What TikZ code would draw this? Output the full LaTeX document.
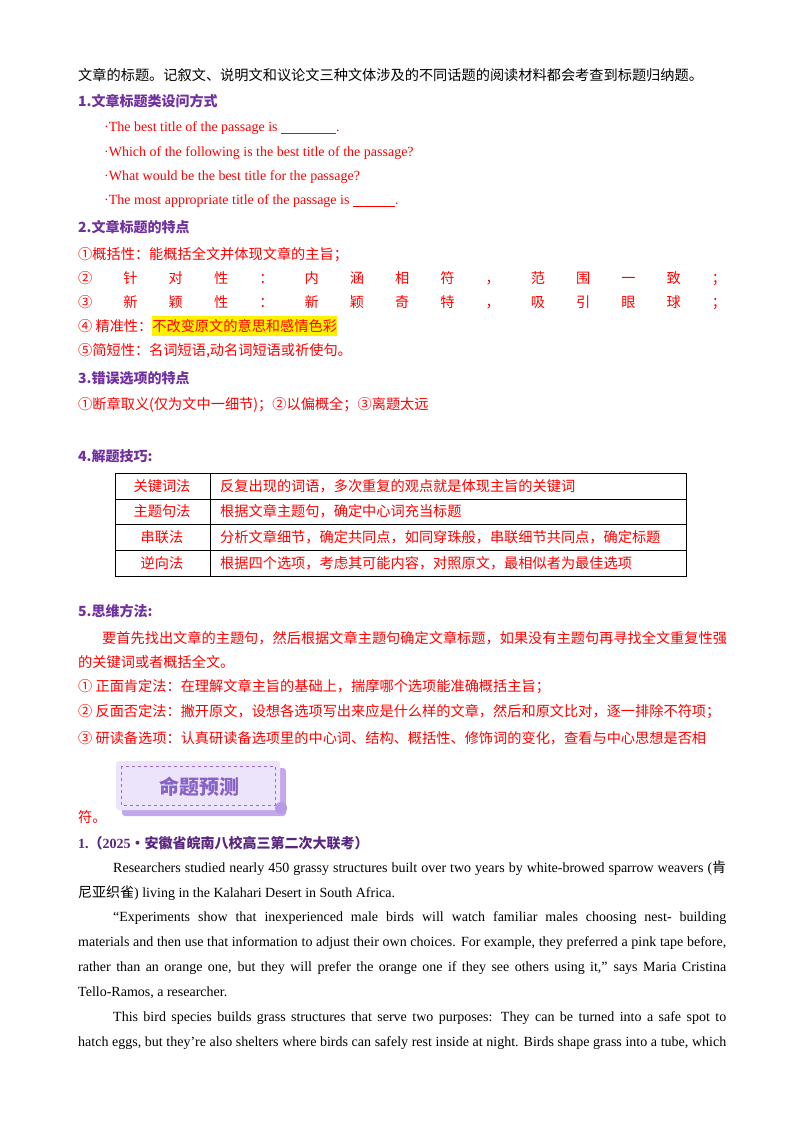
\documentclass[tikz,border=0pt]{standalone}
\usepackage{fontspec}
\setmainfont{Liberation Serif}
\newfontfamily\cjk{Noto Sans CJK SC}
\definecolor{pur}{RGB}{112,48,160}
\definecolor{rd}{RGB}{255,0,0}
\definecolor{lav}{RGB}{236,228,250}
\definecolor{mpur}{RGB}{150,110,220}
\begin{document}
\begin{tikzpicture}[x=1pt,y=-1pt,
  tx/.style={anchor=west,inner sep=0pt,font=\fontsize{14.2}{15}\selectfont\cjk},
  hd/.style={tx,text=pur,font=\fontsize{14}{15}\selectfont\cjk\bfseries},
  rt/.style={tx,text=rd},
  en/.style={anchor=west,inner sep=0pt,text=rd,font=\fontsize{14}{15}\selectfont},
  bd/.style={anchor=west,inner sep=0pt,font=\fontsize{14}{15}\selectfont},
  cell/.style={draw=black,line width=0.6pt}]
\useasboundingbox (0,0) rectangle (800,1134);
\fill[white] (0,0) rectangle (800,1134);
\node[tx] (l0) at (78,75) {文章的标题。记叙文、说明文和议论文三种文体涉及的不同话题的阅读材料都会考查到标题归纳题。};
\node[hd] (h1) at (78,101) {1.文章标题类设问方式};
\node[en] (e1) at (104,128) {·The best title of the passage is \underline{\hspace{55pt}}.};
\node[en] (e2) at (104,153) {·Which of the following is the best title of the passage?};
\node[en] (e3) at (104,177) {·What would be the best title for the passage?};
\node[en] (e4) at (104,201) {·The most appropriate title of the passage is \underline{\hspace{42pt}}.};
\node[hd] (h2) at (78,227) {2.文章标题的特点};
\node[rt] (p1) at (78,255) {①概括性：能概括全文并体现文章的主旨；};
\node[rt] (p2) at (78,279) {\makebox[648pt][s]{②\hfill 针\hfill 对\hfill 性\hfill ：\hfill 内\hfill 涵\hfill 相\hfill 符\hfill ，\hfill 范\hfill 围\hfill 一\hfill 致\hfill ；}};
\node[rt] (p3) at (78,303) {\makebox[648pt][s]{③\hfill 新\hfill 颖\hfill 性\hfill ：\hfill 新\hfill 颖\hfill 奇\hfill 特\hfill ，\hfill 吸\hfill 引\hfill 眼\hfill 球\hfill ；}};
\node[rt] (p4) at (78,326) {④ 精准性：\colorbox{yellow}{\hspace{-3pt}不改变原文的意思和感情色彩\hspace{-3pt}}};
\node[rt] (p5) at (78,351) {⑤简短性：名词短语,动名词短语或祈使句。};
\node[hd] (h3) at (78,378) {3.错误选项的特点};
\node[rt] (p6) at (78,405) {①断章取义(仅为文中一细节)；②以偏概全；③离题太远};
\node[hd] (h4) at (78,456) {4.解题技巧:};
% table
\draw[cell] (115,473) rectangle (686,576);
\foreach \yy in {499,524.5,550} \draw[cell] (115,\yy) -- (686,\yy);
\draw[cell] (210,473) -- (210,576);
\node[rt,anchor=center] (a1) at (162,486) {关键词法};
\node[rt,anchor=center] (a2) at (162,511.5) {主题句法};
\node[rt,anchor=center] (a3) at (162,537) {串联法};
\node[rt,anchor=center] (a4) at (162,563) {逆向法};
\node[rt] (b1) at (220,486) {反复出现的词语，多次重复的观点就是体现主旨的关键词};
\node[rt] (b2) at (220,511.5) {根据文章主题句，确定中心词充当标题};
\node[rt] (b3) at (220,537) {分析文章细节，确定共同点，如同穿珠般，串联细节共同点，确定标题};
\node[rt] (b4) at (220,563) {根据四个选项，考虑其可能内容，对照原文，最相似者为最佳选项};
\node[hd] (h5) at (78,611) {5.思维方法:};
\node[rt] (q1) at (78,638) {\hspace{24pt}要首先找出文章的主题句，然后根据文章主题句确定文章标题，如果没有主题句再寻找全文重复性强};
\node[rt] (q2) at (78,662) {的关键词或者概括全文。};
\node[rt] (q3) at (78,687) {① 正面肯定法：在理解文章主旨的基础上，揣摩哪个选项能准确概括主旨；};
\node[rt] (q4) at (78,712) {② 反面否定法：撇开原文，设想各选项写出来应是什么样的文章，然后和原文比对，逐一排除不符项；};
\node[rt] (q5) at (78,738) {③ 研读备选项：认真研读备选项里的中心词、结构、概括性、修饰词的变化，查看与中心思想是否相};
% banner
\fill[mpur!60,rounded corners=3pt] (122,768) rectangle (286,816);
\fill[lav,rounded corners=3pt] (116,761) rectangle (280,810);
\draw[mpur,dashed,line width=0.5pt] (121,766) rectangle (275,805);
\fill[mpur!70] (281,808) circle (6);
\node[anchor=center,inner sep=0pt,text=mpur!90!black,font=\fontsize{20}{21}\selectfont\cjk\bfseries] (bn) at (199,787) {命题预测};
\node[rt] (q6) at (78,817) {符。};
\node[tx,text=pur!80!black,font=\fontsize{14}{15}\selectfont\bfseries] (h6) at (78,843) {1.{\cjk（}2025{\cjk·安徽省皖南八校高三第二次大联考）}};
% English passage
\node[bd] (r1) at (113,868) {\makebox[613pt][s]{Researchers studied nearly 450 grassy structures built over two years by white-browed sparrow weavers ({\cjk 肯}}};
\node[bd] (r2) at (78,893) {{\cjk 尼亚织雀}) living in the Kalahari Desert in South Africa.};
\node[bd] (r3) at (113,918) {\makebox[613pt][s]{“Experiments show that inexperienced male birds will watch familiar males choosing nest- building}};
\node[bd] (r4) at (78,943) {\makebox[648pt][s]{materials and then use that information to adjust their own choices. For example, they preferred a pink tape before,}};
\node[bd] (r5) at (78,968) {\makebox[648pt][s]{rather than an orange one, but they will prefer the orange one if they see others using it,” says Maria Cristina}};
\node[bd] (r6) at (78,993) {Tello-Ramos, a researcher.};
\node[bd] (r7) at (113,1018) {\makebox[613pt][s]{This bird species builds grass structures that serve two purposes: They can be turned into a safe spot to}};
\node[bd] (r8) at (78,1043) {\makebox[648pt][s]{hatch eggs, but they’re also shelters where birds can safely rest inside at night. Birds shape grass into a tube, which}};
\end{tikzpicture}
\end{document}
